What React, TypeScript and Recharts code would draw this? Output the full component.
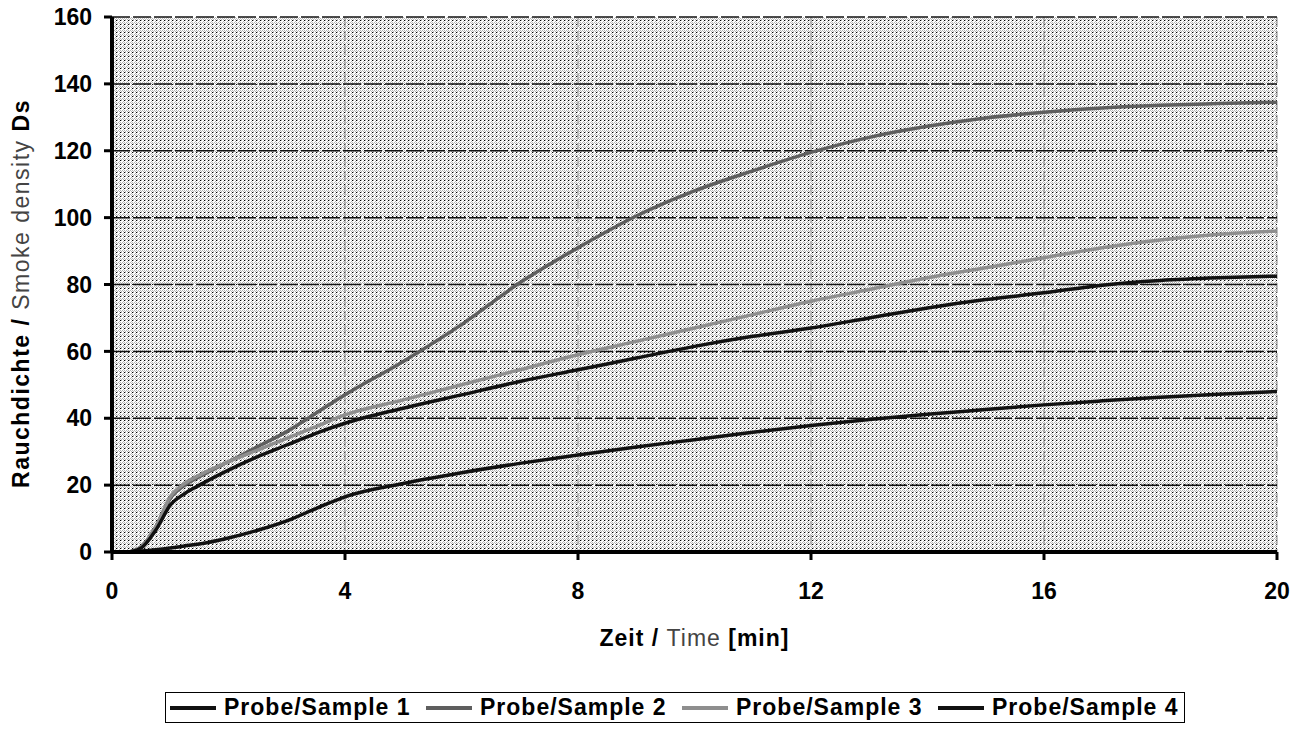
import React from "react";
import { LineChart, Line, XAxis, YAxis, CartesianGrid, Legend, Label } from "recharts";

// time in minutes
const times = [0, 0.25, 0.5, 0.75, 1, 1.25, 1.5, 2, 2.5, 3, 3.5, 4, 5, 6, 7, 8, 9, 10, 11, 12, 13, 14, 15, 16, 17, 18, 19, 20];

// smoke density Ds per sample
const sample1 = [0, 0, 0.3, 0.7, 1.2, 1.8, 2.4, 4.2, 6.5, 9.3, 13, 16.5, 20.5, 23.7, 26.5, 29, 31.4, 33.6, 35.8, 37.8, 39.6, 41.2, 42.6, 44, 45.2, 46.3, 47.2, 48];
const sample2 = [0, 0, 1.5, 7.5, 16, 20, 22.5, 27, 31.5, 36, 41.5, 47, 57, 68, 80.5, 91, 100.5, 108, 114, 119.5, 124, 127.3, 129.8, 131.5, 132.8, 133.6, 134.1, 134.5];
const sample3 = [0, 0, 1.5, 7.5, 16.5, 20.5, 23, 27, 30.5, 34, 37.5, 41, 45.5, 50, 54.5, 59, 63, 67, 71, 75, 78.5, 82, 85, 88, 91, 93.3, 95, 96];
const sample4 = [0, 0, 1.2, 6.5, 14, 17.5, 20, 24.5, 28.5, 32, 35.5, 38.5, 43, 47, 51, 54.5, 58, 61.5, 64.5, 67, 70, 73, 75.5, 77.5, 79.8, 81.2, 82, 82.5];

const xTicks = [0, 4, 8, 12, 16, 20];
const yTicks = [0, 20, 40, 60, 80, 100, 120, 140, 160];

const seriesNames = ["Probe/Sample 1", "Probe/Sample 2", "Probe/Sample 3", "Probe/Sample 4"];
const seriesKeys = ["s1", "s2", "s3", "s4"];
const seriesColors = ["#111111", "#5e5e5e", "#8e8e8e", "#111111"];

const data = times.map((t, i) => ({
  t,
  s1: sample1[i],
  s2: sample2[i],
  s3: sample3[i],
  s4: sample4[i],
}));

const FONT = '"Liberation Sans", Arial, Helvetica, sans-serif';

const tickStyle = { fontFamily: FONT, fontSize: 23, fontWeight: "bold", fill: "#000" };

const XTitle = (props: any) => {
  const { x, y, width } = props.viewBox;
  return (
    <text x={x + width / 2} y={y + 94} textAnchor="middle" fontFamily={FONT} fontSize={23} letterSpacing={1} fill="#000">
      <tspan fontWeight="bold">{"Zeit / "}</tspan>
      <tspan fill="#444">Time</tspan>
      <tspan fontWeight="bold">{" [min]"}</tspan>
    </text>
  );
};

const YTitle = (props: any) => {
  const { y, height } = props.viewBox;
  const cx = 29;
  const cy = y + height / 2 + 9;
  return (
    <text
      x={cx}
      y={cy}
      transform={`rotate(-90, ${cx}, ${cy})`}
      textAnchor="middle"
      fontFamily={FONT}
      fontSize={23}
      letterSpacing={1.5}
      fill="#000"
    >
      <tspan fontWeight="bold">{"Rauchdichte / "}</tspan>
      <tspan fill="#444">{"Smoke density "}</tspan>
      <tspan fontWeight="bold">Ds</tspan>
    </text>
  );
};

const LegendBox = () => (
  <div
    style={{
      marginLeft: 165,
      width: 1020,
      height: 31,
      boxSizing: "border-box",
      border: "1px solid #000",
      display: "flex",
      alignItems: "center",
      paddingLeft: 4,
      fontFamily: FONT,
      fontSize: 23,
      fontWeight: "bold",
      letterSpacing: 1,
      lineHeight: "1",
      color: "#000",
    }}
  >
    {seriesNames.map((name, i) => (
      <div key={name} style={{ width: 256, display: "flex", alignItems: "center", flex: "none" }}>
        <span style={{ display: "inline-block", width: 46, height: 4, background: seriesColors[i] }} />
        <span style={{ marginLeft: 8, whiteSpace: "nowrap" }}>{name}</span>
      </div>
    ))}
  </div>
);

export default function App() {
  return (
    <div style={{ margin: "-8px 0 0 -8px", width: 1298, height: 723 }}>
      <LineChart width={1298} height={723} data={data} margin={{ top: 17, right: 21, bottom: 0, left: 0 }}>
        <defs>
          <pattern id="stipple" width="4" height="4" patternUnits="userSpaceOnUse">
            <rect width="4" height="4" fill="#ffffff" />
            <rect x="0" y="0" width="1" height="1" fill="#000" />
            <rect x="1" y="0" width="1" height="1" fill="#b4b4b4" />
            <rect x="3" y="1" width="1" height="1" fill="#b4b4b4" />
            <rect x="2" y="2" width="1" height="1" fill="#b4b4b4" />
            <rect x="0" y="2" width="1" height="1" fill="#b4b4b4" />
            <rect x="1" y="3" width="1" height="1" fill="#b4b4b4" />
            <rect x="3" y="3" width="1" height="1" fill="#b4b4b4" />
          </pattern>
        </defs>
        <CartesianGrid horizontal={false} stroke="#8a8a8a" strokeDasharray="10 4" fill="url(#stipple)" fillOpacity={1} />
        <CartesianGrid vertical={false} stroke="#111" strokeWidth={1.5} strokeDasharray="18 3" />
        <XAxis
          type="number"
          dataKey="t"
          domain={[0, 20]}
          ticks={xTicks}
          interval={0}
          height={140}
          axisLine={{ stroke: "#000", strokeWidth: 4 }}
          tickLine={{ stroke: "#000", strokeWidth: 3 }}
          tickSize={8}
          tickMargin={23}
          tick={tickStyle}
        >
          <Label content={XTitle} />
        </XAxis>
        <YAxis
          type="number"
          domain={[0, 160]}
          ticks={yTicks}
          interval={0}
          width={112}
          axisLine={{ stroke: "#000", strokeWidth: 4 }}
          tickLine={{ stroke: "#000", strokeWidth: 3 }}
          tickSize={8}
          tickMargin={12}
          tick={tickStyle}
        >
          <Label content={YTitle} />
        </YAxis>
        <Legend verticalAlign="bottom" content={LegendBox} />
        {seriesKeys.map((k, i) => (
          <Line
            key={k}
            type="monotone"
            dataKey={k}
            name={seriesNames[i]}
            stroke={seriesColors[i]}
            strokeWidth={3.5}
            dot={false}
            activeDot={false}
            isAnimationActive={false}
          />
        ))}
      </LineChart>
    </div>
  );
}
